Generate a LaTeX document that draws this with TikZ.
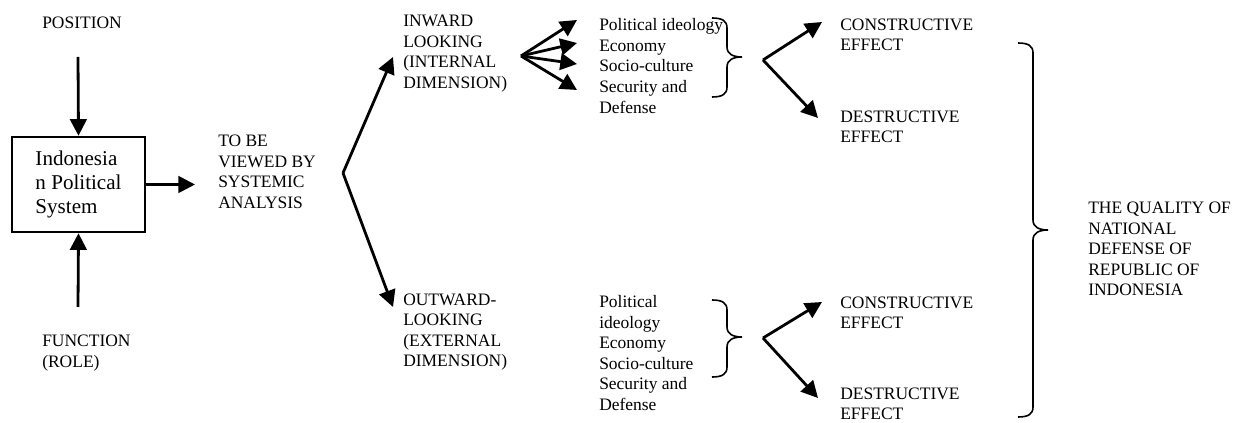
\documentclass[tikz,border=0pt]{standalone}
\usepackage{fontspec}
\setmainfont{Liberation Serif}
\usetikzlibrary{arrows.meta}

% curly brace opening to the right: #1 = left x, #2 = top y, #3 = tip y, #4 = bottom y, #5 = half width
\newcommand\drawcurly[5]{%
  \draw[bracestyle]
    (#1,#2) .. controls ({#1+0.7*#5},#2) and ({#1+#5},{#2+3}) .. ({#1+#5},{#2+10})
    -- ({#1+#5},{#3-10}) .. controls ({#1+#5},{#3-3}) and ({#1+1.4*#5},#3) .. ({#1+2*#5},#3)
    .. controls ({#1+1.4*#5},#3) and ({#1+#5},{#3+3}) .. ({#1+#5},{#3+10})
    -- ({#1+#5},{#4-10}) .. controls ({#1+#5},{#4-3}) and ({#1+0.7*#5},#4) .. (#1,#4);}

\tikzset{
  lbl/.style={anchor=west, inner sep=0pt, align=left,
    font=\fontsize{13.1}{15.4}\selectfont},
  sysbox/.style={draw, line width=1.9pt, minimum width=133*0.75pt,
    minimum height=95*0.75pt, align=left, inner sep=0pt,
    font=\fontsize{15.8}{18}\selectfont},
  flow/.style={line width=2.1pt, -{Triangle[length=12.5pt,width=12.5pt]}},
  bracestyle/.style={line width=1.2pt},
}

\begin{document}
\begin{tikzpicture}[x=0.75pt,y=-0.75pt]
\useasboundingbox (0,0) rectangle (1235,423);

% left part: the system and its inputs
\node[sysbox] (sys) at (78.5,184.5) {Indonesia\\n Political\\System};
\node[lbl] (pos) at (42,23) {POSITION};
\node[lbl] (func) at (42,353) {FUNCTION\\(ROLE)};
\node[lbl] (view) at (218,172) {TO BE\\VIEWED BY\\SYSTEMIC\\ANALYSIS};

\coordinate (posEnd) at (78,57);
\coordinate (funcEnd) at (78,307);
\coordinate (viewTip) at (195,184.5);
\draw[flow] (posEnd) -- (sys.north);
\draw[flow] (funcEnd) -- (sys.south);
\draw[flow] (sys.east) -- (viewTip);

% the two dimensions
\node[lbl] (inward) at (403,53.5) {INWARD\\LOOKING\\(INTERNAL\\DIMENSION)};
\node[lbl] (outward) at (403,332) {OUTWARD-\\LOOKING\\(EXTERNAL\\DIMENSION)};

\coordinate (split) at (343,173);
\coordinate (inTip) at (393,57);
\coordinate (outTip) at (393,307);
\draw[flow] (split) -- (inTip);
\draw[flow] (split) -- (outTip);

% internal aspects
\node[lbl] (inList) at (599,66) {Political ideology\\Economy\\Socio-culture\\Security and\\Defense};
\coordinate (fan) at (521,56);
\coordinate (fanA) at (577,20);
\coordinate (fanB) at (577,43);
\coordinate (fanC) at (577,64);
\coordinate (fanD) at (577,90);
\foreach \t in {fanA,fanB,fanC,fanD} \draw[flow] (fan) -- (\t);
\drawcurly{712}{18}{57}{97}{15}

% external aspects
\node[lbl] (outList) at (599,353) {Political\\ideology\\Economy\\Socio-culture\\Security and\\Defense};
\drawcurly{712}{300}{337}{377}{15}

% effects
\node[lbl] (conA) at (840,35) {CONSTRUCTIVE\\EFFECT};
\node[lbl] (desA) at (840,127) {DESTRUCTIVE\\EFFECT};
\node[lbl] (conB) at (840,313) {CONSTRUCTIVE\\EFFECT};
\node[lbl] (desB) at (840,404) {DESTRUCTIVE\\EFFECT};

\coordinate (forkA) at (763,60);
\coordinate (conAtip) at (822,22);
\coordinate (desAtip) at (818,118);
\draw[flow] (forkA) -- (conAtip);
\draw[flow] (forkA) -- (desAtip);

\coordinate (forkB) at (763,338);
\coordinate (conBtip) at (822,302);
\coordinate (desBtip) at (818,398);
\draw[flow] (forkB) -- (conBtip);
\draw[flow] (forkB) -- (desBtip);

% overall result
\drawcurly{1018}{43}{230}{417}{15}
\node[lbl] (quality) at (1088,249) {THE QUALITY OF\\NATIONAL\\DEFENSE OF\\REPUBLIC OF\\INDONESIA};
\end{tikzpicture}
\end{document}
